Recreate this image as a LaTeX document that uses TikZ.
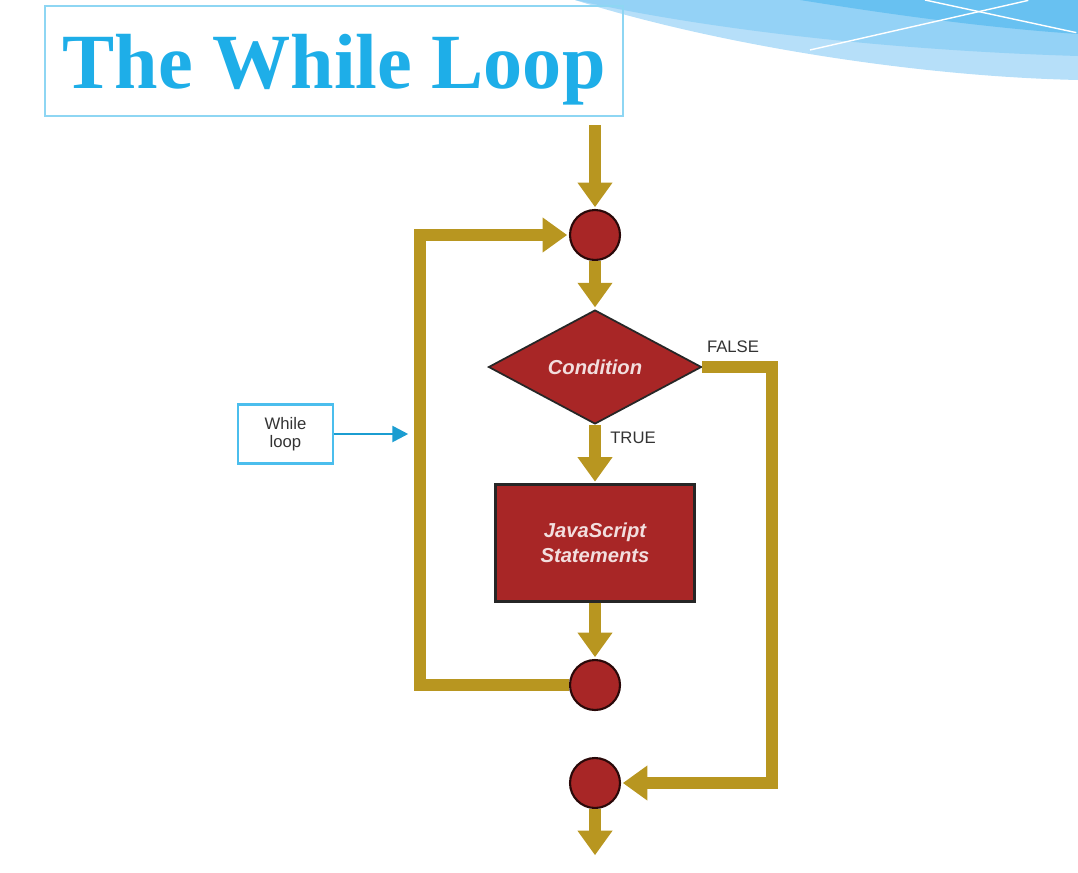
\documentclass[tikz,border=0pt]{standalone}
\usepackage{fontspec}
\setmainfont{Liberation Serif}
\setsansfont{Liberation Sans}
\usepackage{xcolor}
\usetikzlibrary{arrows.meta, positioning, shapes.geometric}
\definecolor{gold}{RGB}{184,150,32}
\definecolor{brick}{RGB}{168,38,38}
\definecolor{sky}{RGB}{30,174,232}
\definecolor{wave1}{RGB}{182,223,249}
\definecolor{wave2}{RGB}{148,210,246}
\definecolor{wave3}{RGB}{104,193,241}
\tikzset{
    flow/.style = {draw=gold, line width=6.8pt, line join=miter,
                   -{Triangle[width=19pt, length=14pt]}},
    junction/.style = {circle, draw=black!75!brick, line width=1.2pt, fill=brick,
                       minimum size=1cm, inner sep=0pt},
    decision/.style = {diamond, draw=black!85, line width=1pt, fill=brick,
                       minimum width=4.26cm, minimum height=2.28cm, inner sep=0pt,
                       text=white!85!brick, font=\sffamily\bfseries\itshape\fontsize{11.5}{13}\selectfont},
    block/.style = {rectangle, draw=black!85, line width=1.2pt, fill=brick,
                    minimum width=3.98cm, minimum height=2.34cm, align=center,
                    text=white!85!brick, font=\sffamily\bfseries\itshape\fontsize{11.5}{14}\selectfont},
    tag/.style = {text=black!80, font=\sffamily\fontsize{9.5}{10.5}\selectfont},
    note/.style = {rectangle, draw=sky!80, line width=1.2pt, align=center,
                   minimum width=1.9cm, minimum height=1.18cm, tag}
    }

\begin{document}
\begin{tikzpicture}[
      x = 0.02cm, y = -0.02cm, % one unit = one pixel of the slide
      shorten > = 1pt % don't touch arrow head to node
    ]
    \useasboundingbox (0,0) rectangle (1078,872);

    % slide decoration, top right
    \fill[wave1] (575,0) .. controls (700,40) and (900,76) .. (1078,80) -- (1078,0) -- cycle;
    \fill[wave2] (575,0) .. controls (700,28) and (880,50) .. (1078,56) -- (1078,0) -- cycle;
    \fill[wave3] (800,0) .. controls (900,16) and (990,28) .. (1078,34) -- (1078,0) -- cycle;
    \draw[white, line width=0.8pt] (810,50) -- (1030,0);
    \draw[white, line width=0.8pt] (925,0) -- (1078,33);

    % title
    \node[draw=sky!50, line width=1pt, minimum width=11.56cm, minimum height=2.2cm,
          text=sky, text depth=0pt, font=\bfseries\fontsize{44.5}{50}\selectfont]
          (title) at (334,61) {The While Loop};

    % flow chart
    \coordinate (0) at (595,125);
    \node[junction] (1) at (595,235) {};
    \node[decision] (2) at (595,367) {Condition};
    \node[block] (3) at (595,543) {JavaScript\\Statements};
    \node[junction] (4) at (595,685) {};
    \node[junction] (5) at (595,783) {};
    \coordinate (6) at (595,857);

    \coordinate (7) at (420,685);
    \coordinate (8) at (772,367);

    \node[tag] (9) at (733,347) {FALSE};
    \node[tag] (10) at (633,438) {TRUE};
    \node[note] (11) at (285.5,434) {While\\loop};
    \coordinate (12) at (410,434);

    \draw[flow] (0) -- (1);
    \draw[flow] (1) -- (2);
    \draw[flow] (2) -- (3);
    \draw[flow] (3) -- (4);
    \draw[flow] (5) -- (6);
    \draw[flow] (4) -- (7) |- (1);
    \draw[flow] (2.east) -- (8) |- (5);

    \draw[sky!90!black, line width=1.5pt, -{Triangle[width=9pt, length=9pt]}]
         (11) -- (12);
\end{tikzpicture}
\end{document}
